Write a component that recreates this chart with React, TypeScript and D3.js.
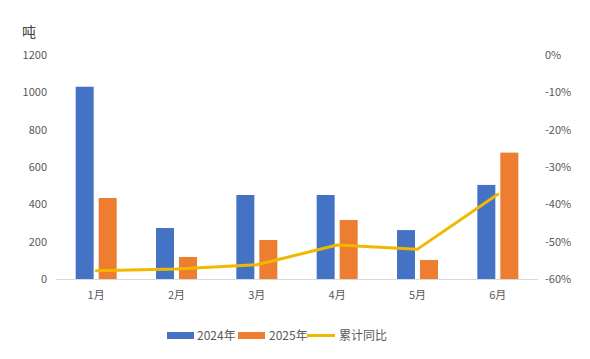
import React from "react";
import * as d3 from "d3";

const categories = ["1月", "2月", "3月", "4月", "5月", "6月"];
const series2024 = [1030, 273, 450, 450, 262, 504];
const series2025 = [434, 118, 209, 316, 102, 677];
const cumYoY = [-57.8, -57.3, -56.2, -50.9, -52.0, -37.3];
const leftTicks = [0, 200, 400, 600, 800, 1000, 1200];
const rightTicks = [0, -10, -20, -30, -40, -50, -60];

const W = 590, H = 359;
const FONT = "'Noto Sans CJK SC', 'Noto Sans', sans-serif";
const C_BLUE = "#4472C4", C_ORANGE = "#ED7D31", C_GOLD = "#F2B800";

export default function App() {
  const x = d3.scaleBand<string>().domain(categories).range([56, 538]);
  const yL = d3.scaleLinear().domain([0, 1200]).range([279, 55]);
  const yR = d3.scaleLinear().domain([-60, 0]).range([279, 55]);
  const barW = 18, gap = 5;
  const line = d3.line<number>()
    .x((_, i) => (x(categories[i]) as number) + x.bandwidth() / 2)
    .y((d) => yR(d));
  return (
    <svg width={W} height={H} style={{ position: "absolute", left: 0, top: 0, background: "#fff" }} fontFamily={FONT}>
      <text x={22} y={37} fontSize={14} fill="#404040">吨</text>
      {leftTicks.map((t) => (
        <text key={t} x={47} y={yL(t) + 4} fontSize={11} fill="#595959" textAnchor="end">{t}</text>
      ))}
      {rightTicks.map((t) => (
        <text key={t} x={545} y={yR(t) + 4} fontSize={11} fill="#595959">{t}%</text>
      ))}
      {categories.map((c, i) => {
        const cx = (x(c) as number) + x.bandwidth() / 2;
        return (
          <g key={c}>
            <rect x={cx - gap / 2 - barW} y={yL(series2024[i])} width={barW} height={279 - yL(series2024[i])} fill={C_BLUE} />
            <rect x={cx + gap / 2} y={yL(series2025[i])} width={barW} height={279 - yL(series2025[i])} fill={C_ORANGE} />
            <text x={cx} y={299} fontSize={11} fill="#595959" textAnchor="middle">{c}</text>
          </g>
        );
      })}
      <line x1={56} x2={538} y1={279.5} y2={279.5} stroke="#D9D9D9" strokeWidth={1} />
      <path d={line(cumYoY) || ""} fill="none" stroke={C_GOLD} strokeWidth={3} strokeLinejoin="round" strokeLinecap="round" />
      <g fontSize={12} fill="#595959">
        <rect x={167} y={332} width={27} height={7} fill={C_BLUE} />
        <text x={197} y={340}>2024年</text>
        <rect x={238} y={332} width={27} height={7} fill={C_ORANGE} />
        <text x={269} y={340}>2025年</text>
        <line x1={307} x2={335} y1={335.5} y2={335.5} stroke={C_GOLD} strokeWidth={3} />
        <text x={339} y={340}>累计同比</text>
      </g>
    </svg>
  );
}
